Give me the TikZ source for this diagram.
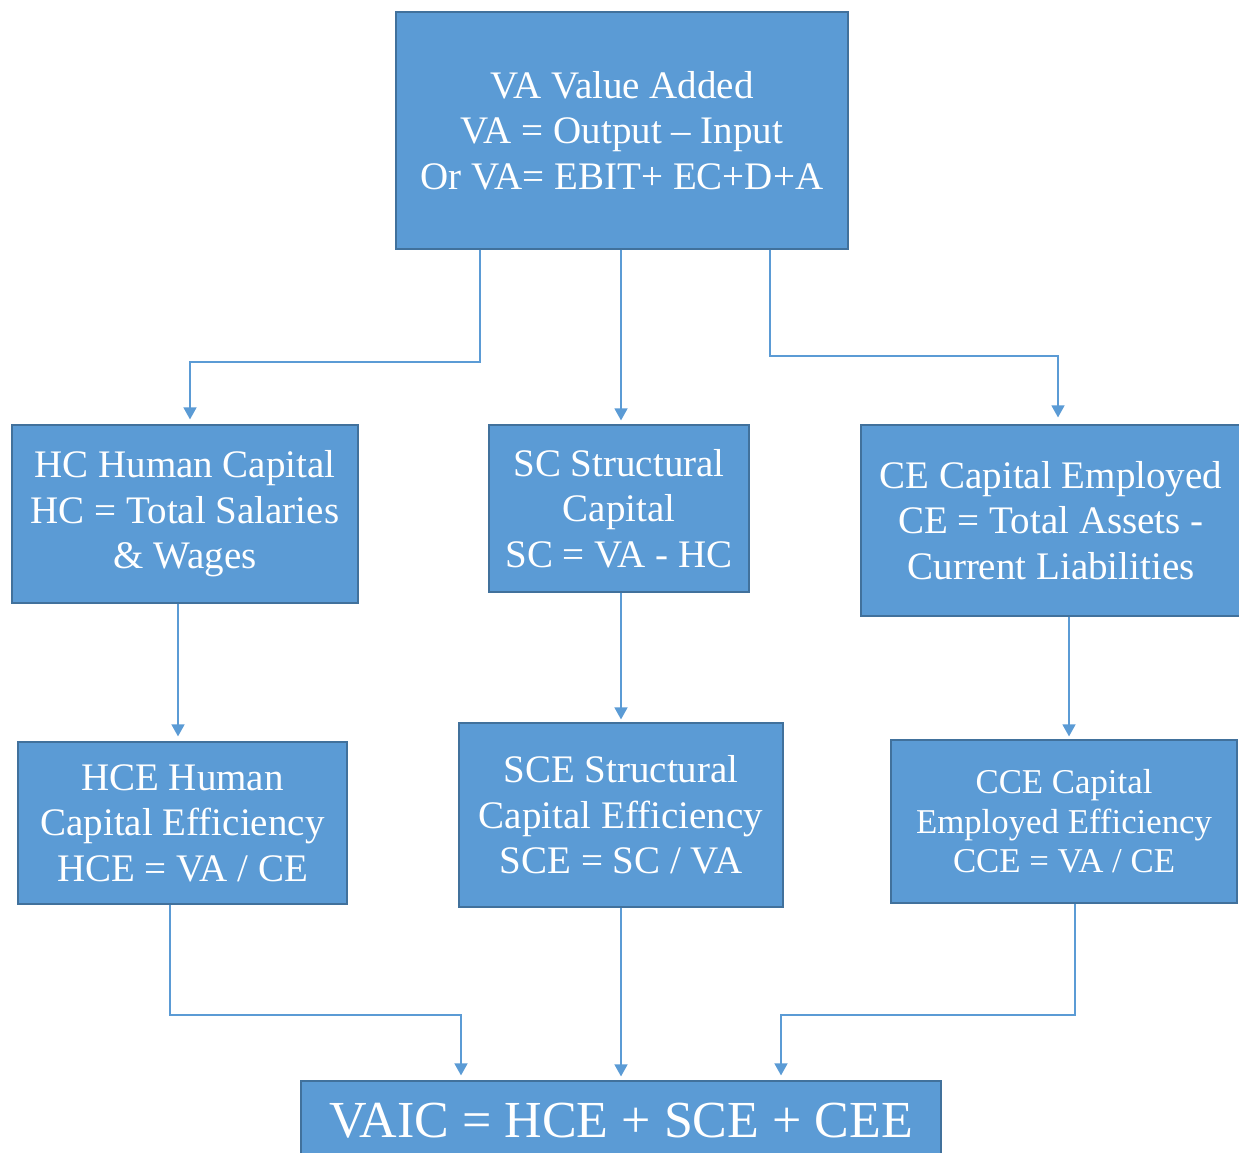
\documentclass[tikz,border=0pt]{standalone}
\usepackage{fontspec}
\setmainfont{Liberation Serif}
\usetikzlibrary{arrows.meta}
\definecolor{boxfill}{HTML}{5B9BD5}
\definecolor{boxline}{HTML}{41719C}
\definecolor{conncol}{HTML}{5B9BD5}
\tikzset{
  box/.style={draw=boxline, line width=1.2pt, fill=boxfill, text=white, align=center, inner sep=0pt},
  conn/.style={draw=conncol, line width=1.5pt, -{Triangle[width=13pt,length=12pt]}},
  fA/.style={font=\fontsize{39}{45.5}\selectfont},
  fB/.style={font=\fontsize{34.8}{39.5}\selectfont},
  fC/.style={font=\fontsize{52}{60}\selectfont}
}
\begin{document}
\begin{tikzpicture}[x=1pt,y=-1pt]
\useasboundingbox (0,0) rectangle (1239,1152);
\node[box,fA,minimum width=452pt,minimum height=237pt] (va) at (622,130.5) {VA Value Added\\VA = Output -- Input\\Or VA= EBIT+ EC+D+A};
\node[box,fA,minimum width=346pt,minimum height=178pt] (hc) at (185,514) {HC Human Capital\\HC = Total Salaries\\\& Wages};
\node[box,fA,minimum width=260pt,minimum height=167pt] (sc) at (619,508.5) {SC Structural\\Capital\\SC = VA - HC};
\node[box,fA,minimum width=380pt,minimum height=191pt] (ce) at (1051,520.5) {CE Capital Employed\\CE = Total Assets -\\Current Liabilities};
\node[box,fA,minimum width=329pt,minimum height=162pt] (hce) at (182.5,823) {HCE Human\\Capital Efficiency\\HCE = VA / CE};
\node[box,fA,minimum width=324pt,minimum height=184pt] (sce) at (621,815) {SCE Structural\\Capital Efficiency\\SCE = SC / VA};
\node[box,fB,minimum width=346pt,minimum height=163pt] (cce) at (1064,821.5) {CCE Capital\\Employed Efficiency\\CCE = VA / CE};
\node[box,fC,minimum width=640pt,minimum height=80pt] (vaic) at (621,1121) {VAIC = HCE + SCE + CEE};

\draw[conn] (va.south -| 480,0) |- (190,362) -- ([yshift=5pt]hc.north -| 190,0);
\draw[conn] (va.south -| 621,0) -- ([yshift=4pt]sc.north -| 621,0);
\draw[conn] (va.south -| 770,0) |- (1058,356) -- ([yshift=7pt]ce.north -| 1058,0);
\draw[conn] (hc.south -| 178,0) -- ([yshift=5pt]hce.north -| 178,0);
\draw[conn] (sc.south -| 621,0) -- ([yshift=3pt]sce.north -| 621,0);
\draw[conn] (ce.south -| 1069,0) -- ([yshift=3pt]cce.north -| 1069,0);
\draw[conn] (hce.south -| 170,0) |- (461,1015) -- ([yshift=5pt]vaic.north -| 461,0);
\draw[conn] (sce.south -| 621,0) -- ([yshift=4pt]vaic.north -| 621,0);
\draw[conn] (cce.south -| 1075,0) |- (781,1015) -- ([yshift=5pt]vaic.north -| 781,0);
\end{tikzpicture}
\end{document}
